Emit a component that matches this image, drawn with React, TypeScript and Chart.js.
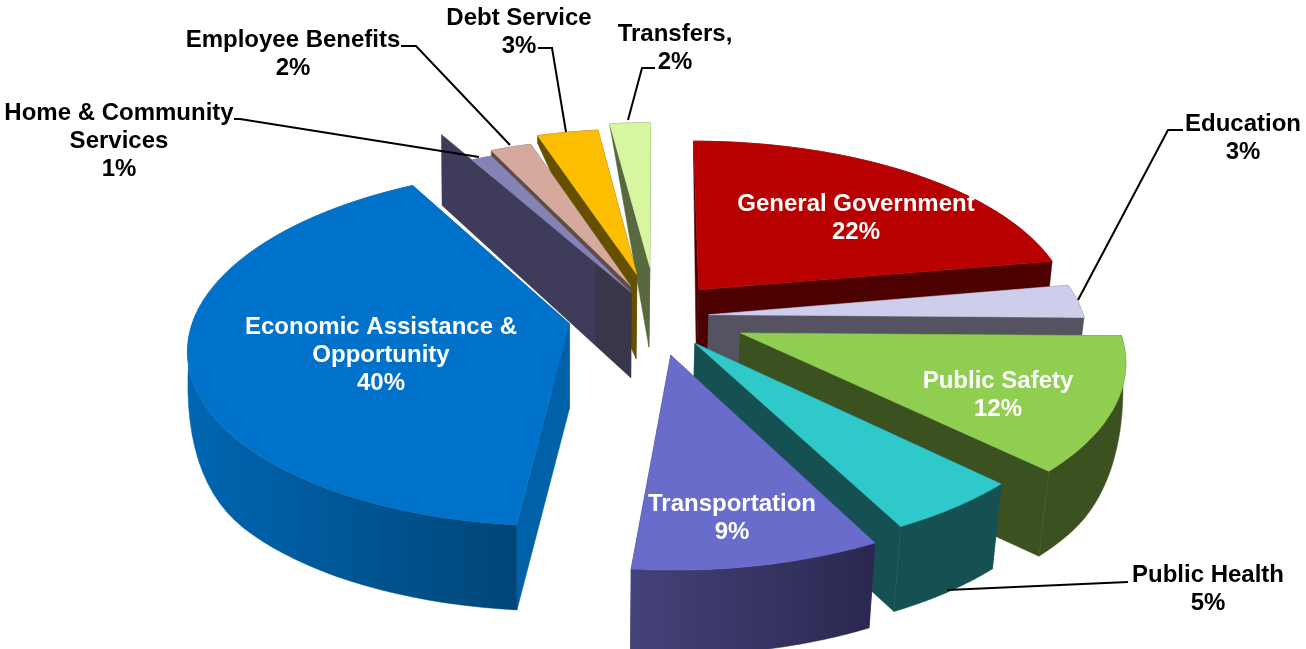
import React, { useEffect, useRef } from "react";
import { Chart, registerables } from "chart.js";

Chart.register(...registerables);

// Budget shares, in the clockwise order of the pie.
const categories = [
  "General Government",
  "Education",
  "Public Safety",
  "Public Health",
  "Transportation",
  "Economic Assistance & Opportunity",
  "Home & Community Services",
  "Employee Benefits",
  "Debt Service",
  "Transfers,",
];
const shares = [22, 3, 12, 5, 9, 40, 1, 2, 3, 2];

const topColors = ["#b80000", "#cfcdec", "#8fce50", "#2fc9c9", "#6a6ccc", "#0072c9", "#8583b5", "#d5aa9c", "#fdbd00", "#d8f6a0"];
const faceColors = ["#4d0000", "#555362", "#3b5220", "#155053", "#3a3868", "#0060a8", "#3e3c5a", "#5f4c46", "#665000", "#58683f"];
const wallLeftColors = ["#4d0000", "#555362", "#3b5220", "#155053", "#454279", "#0066b2", "#3e3c5a", "#5f4c46", "#665000", "#58683f"];
const wallRightColors = ["#4d0000", "#555362", "#3b5220", "#155053", "#2a2850", "#004678", "#3e3c5a", "#5f4c46", "#665000", "#58683f"];
const explodeOffsets = [55, 48, 79, 60, 73, 60, 38, 49, 68, 76];
const sliceShiftX = [8, 1, -2, 2, 7, 2, 9, 9, 11, 11];
const sliceShiftY = [3, 5, 2, 1, -2, 4, 1, 1, 2, 0];
const paintOrder = [9, 8, 7, 6, 5, 0, 1, 2, 3, 4];

// Perspective of the tilted disc.
const CENTER_X = 645;
const CENTER_Y = 312;
const SPREAD_X = 375;
const SPREAD_Y = 174;
const PERSPECTIVE = 0.13;
const MAX_DEPTH = 85;
const HOME_INDEX = 6;

type Label = { lines: string[]; x: number; y: number; color: string; index: number };
const valueLabels: Label[] = [
  { index: 0, lines: ["General Government"], x: 856, y: 204, color: "#ffffff" },
  { index: 1, lines: ["Education"], x: 1243, y: 124, color: "#000000" },
  { index: 2, lines: ["Public Safety"], x: 998, y: 381, color: "#ffffff" },
  { index: 3, lines: ["Public Health"], x: 1208, y: 575, color: "#000000" },
  { index: 4, lines: ["Transportation"], x: 732, y: 504, color: "#ffffff" },
  { index: 5, lines: ["Economic Assistance &", "Opportunity"], x: 381, y: 327, color: "#ffffff" },
  { index: 6, lines: ["Home & Community", "Services"], x: 119, y: 113, color: "#000000" },
  { index: 7, lines: ["Employee Benefits"], x: 293, y: 40, color: "#000000" },
  { index: 8, lines: ["Debt Service"], x: 519, y: 18, color: "#000000" },
  { index: 9, lines: ["Transfers,"], x: 675, y: 34, color: "#000000" },
];
const leaderLines: number[][][] = [
  [[1183, 130], [1168, 130], [1078, 300]],
  [[1128, 582], [947, 590]],
  [[234, 119], [240, 119], [479, 157]],
  [[401, 46], [416, 46], [510, 145]],
  [[538, 48], [552, 48], [566, 132]],
  [[655, 68], [642, 68], [628, 120]],
];

function project(wx: number, wy: number, shiftX: number, shiftY: number): [number, number] {
  const s = 1 / (1 - PERSPECTIVE * wy);
  return [CENTER_X + shiftX + SPREAD_X * wx * s, CENTER_Y + shiftY + SPREAD_Y * wy * s];
}

function lowered(p: [number, number], depth: number): [number, number] {
  const lean = ((p[0] - 600) * (p[0] > 600 ? 0.022 : 0.006) * depth * depth) / (MAX_DEPTH * MAX_DEPTH);
  return [p[0] - lean, p[1] + depth];
}

// Underside of a cut face: the far end of the disc is nearly edge-on.
function extrude(p: [number, number], fixedDepth?: number): [number, number] {
  return lowered(p, fixedDepth ?? Math.min(MAX_DEPTH, Math.max(0, (p[1] - 122) * 0.55)));
}

// Underside of the curved outer wall: it eases out toward the sides of the disc.
function extrudeWall(p: [number, number]): [number, number] {
  const t = Math.min(1, Math.max(0, (445 - p[1]) / 124));
  return lowered(p, MAX_DEPTH * (1 - t * t));
}

function fillPolygon(ctx: CanvasRenderingContext2D, pts: [number, number][], fill: string | CanvasGradient) {
  ctx.beginPath();
  pts.forEach((p, i) => (i ? ctx.lineTo(p[0], p[1]) : ctx.moveTo(p[0], p[1])));
  ctx.closePath();
  ctx.fillStyle = fill;
  ctx.fill();
  ctx.strokeStyle = fill;
  ctx.lineWidth = 0.5;
  ctx.stroke();
}

function sideGradient(ctx: CanvasRenderingContext2D, pts: [number, number][], left: string, right: string, hardStop?: number) {
  const xs = pts.map((p) => p[0]);
  const g = ctx.createLinearGradient(Math.min(...xs), 0, Math.max(...xs), 0);
  g.addColorStop(0, left);
  if (hardStop !== undefined) {
    g.addColorStop(hardStop, left);
    g.addColorStop(hardStop, right);
  }
  g.addColorStop(1, right);
  return g;
}

const extrudedPie = {
  id: "extrudedPie",
  beforeDatasetDraw(chart: any) {
    const ctx: CanvasRenderingContext2D = chart.ctx;
    const arcs = chart.getDatasetMeta(0).data;
    ctx.save();
    for (const i of paintOrder) {
      const arc = arcs[i];
      const { startAngle, endAngle, outerRadius } = arc.getProps(["startAngle", "endAngle", "outerRadius"], true);
      const mid = (startAngle + endAngle) / 2;
      const e = arc.options.offset / outerRadius;
      const ox = Math.cos(mid) * e;
      const oy = Math.sin(mid) * e;
      const at = (angle: number, r: number) =>
        project(ox + Math.cos(angle) * r, oy + Math.sin(angle) * r, sliceShiftX[i], sliceShiftY[i]);

      const rim: [number, number][] = [];
      const steps = 60;
      for (let k = 0; k <= steps; k++) rim.push(at(startAngle + ((endAngle - startAngle) * k) / steps, 1));
      const apex = at(0, 0);

      // Cut faces first, then the outer wall, then the top surface.
      const endFace: [number, number][] = [apex, rim[steps], extrude(rim[steps]), extrude(apex)];
      fillPolygon(ctx, endFace, faceColors[i]);
      if (i === HOME_INDEX) {
        const reach = at(startAngle, 1.22);
        const startFace: [number, number][] = [apex, reach, extrude(reach, 71), extrude(apex)];
        fillPolygon(ctx, startFace, sideGradient(ctx, startFace, "#3e3c5a", "#383648", 0.81));
      } else {
        const startFace: [number, number][] = [apex, rim[0], extrude(rim[0]), extrude(apex)];
        fillPolygon(ctx, startFace, faceColors[i]);
      }
      const wall: [number, number][] = [...rim, ...rim.map((p) => extrudeWall(p)).reverse()];
      fillPolygon(ctx, wall, sideGradient(ctx, wall, wallLeftColors[i], wallRightColors[i]));
      fillPolygon(ctx, [apex, ...rim], topColors[i]);
    }
    ctx.restore();
    return false;
  },
  afterDraw(chart: any) {
    const ctx: CanvasRenderingContext2D = chart.ctx;
    ctx.save();
    ctx.strokeStyle = "#000000";
    ctx.lineWidth = 2;
    for (const line of leaderLines) {
      ctx.beginPath();
      line.forEach((p, i) => (i ? ctx.lineTo(p[0], p[1]) : ctx.moveTo(p[0], p[1])));
      ctx.stroke();
    }
    ctx.font = '700 24px "Liberation Sans", Arial, sans-serif';
    ctx.textAlign = "center";
    ctx.textBaseline = "middle";
    for (const label of valueLabels) {
      ctx.fillStyle = label.color;
      const rows = [...label.lines, `${shares[label.index]}%`];
      rows.forEach((row, r) => ctx.fillText(row, label.x, label.y + r * 28));
    }
    ctx.restore();
  },
};

export default function App() {
  const ref = useRef<HTMLCanvasElement>(null);
  useEffect(() => {
    document.body.style.margin = "0";
    const chart = new Chart(ref.current!, {
      type: "pie",
      data: {
        labels: categories,
        datasets: [{ data: shares, backgroundColor: topColors, offset: explodeOffsets, borderWidth: 0 }],
      },
      options: {
        animation: false,
        responsive: false,
        plugins: { legend: { display: false }, tooltip: { enabled: false } },
      },
      plugins: [extrudedPie],
    } as any);
    return () => chart.destroy();
  }, []);
  return <canvas ref={ref} width={1306} height={649} style={{ display: "block" }} />;
}
